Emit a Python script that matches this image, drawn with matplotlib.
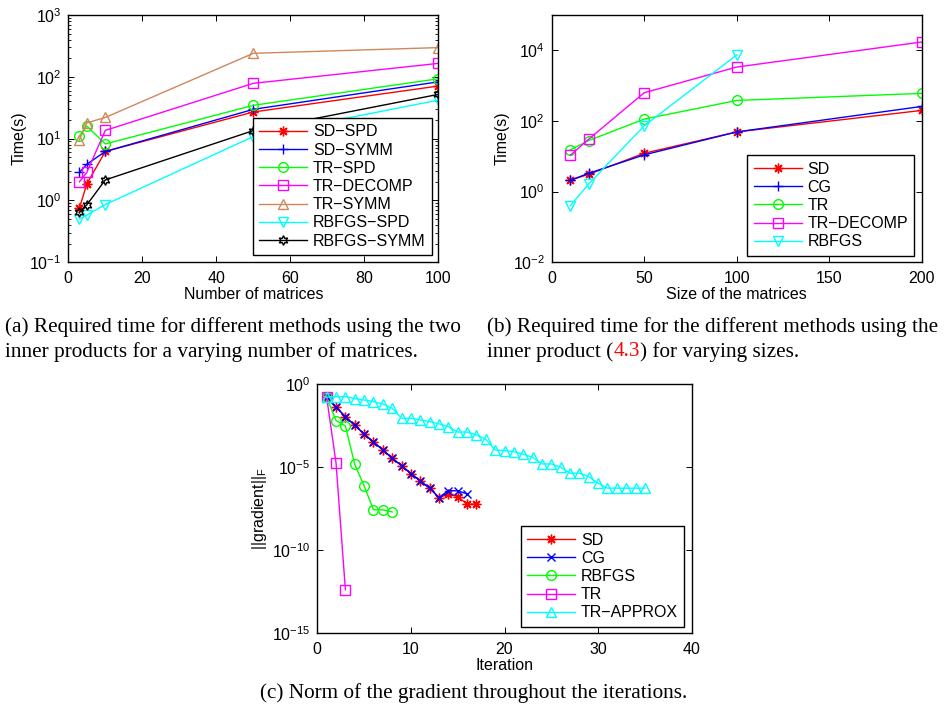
import numpy as np
import matplotlib
matplotlib.use("Agg")
import matplotlib.pyplot as plt
from matplotlib.ticker import LogLocator, NullLocator, NullFormatter

# ---------------- data ----------------
a_x = [3, 5, 10, 50, 100]
a_sd_spd = [0.75, 1.85, 6.2, 27, 71]
a_sd_symm = [2.85, 3.85, 6.2, 29.8, 83]
a_tr_spd = [11, 16, 8.2, 34.6, 93]
a_tr_decomp = [2.0, 2.85, 13.6, 78.5, 165]
a_tr_symm = [9.5, 18, 22, 240, 297]
a_rbfgs_spd = [0.5, 0.58, 0.86, 10.8, 42]
a_rbfgs_symm = [0.64, 0.85, 2.15, 13.5, 52]
a_labels = ["SD\u2212SPD", "SD\u2212SYMM", "TR\u2212SPD", "TR\u2212DECOMP",
            "TR\u2212SYMM", "RBFGS\u2212SPD", "RBFGS\u2212SYMM"]

b_x = [10, 20, 50, 100, 200]
b_sd = [2.1, 3.1, 12.2, 49, 199]
b_cg = [2.1, 3.3, 11, 49, 258]
b_tr = [15.2, 28, 113, 381, 605]
b_tr_decomp = [10.7, 30.5, 630, 3365, 17200]
b_rbfgs_x = [10, 20, 50, 100]
b_rbfgs = [0.4, 1.65, 73, 7380]
b_labels = ["SD", "CG", "TR", "TR\u2212DECOMP", "RBFGS"]

c_sd = [1.6e-1, 4.0e-2, 1.1e-2, 3.2e-3, 1.0e-3, 3.2e-4, 1.1e-4, 3.4e-5, 1.23e-5,
        4.1e-6, 1.48e-6, 5.4e-7, 1.48e-7, 2.3e-7, 1.7e-7, 5.9e-8, 5.9e-8]
c_cg = [1.6e-1, 4.0e-2, 1.1e-2, 3.2e-3, 1.0e-3, 3.2e-4, 1.1e-4, 3.4e-5, 1.23e-5,
        4.1e-6, 1.48e-6, 5.4e-7, 1.48e-7, 3.9e-7, 3.7e-7, 2.45e-7]
c_rbfgs = [1.6e-1, 6.3e-3, 3.0e-3, 1.48e-5, 7.4e-7, 2.7e-8, 2.7e-8, 2.0e-8]
c_tr = [1.6e-1, 1.8e-5, 4.2e-13]
c_tr_approx = [1.6e-1, 1.74e-1, 1.74e-1, 1.32e-1, 1.1e-1, 8.7e-2, 6.3e-2, 3.5e-2,
               8.7e-3, 8.7e-3, 6.9e-3, 5.5e-3, 4.0e-3, 2.7e-3, 1.29e-3, 1.29e-3,
               8.5e-4, 4.7e-4, 1.07e-4, 9.8e-5, 8.5e-5, 5.9e-5, 3.9e-5, 1.55e-5,
               1.55e-5, 9.8e-6, 4.3e-6, 4.3e-6, 2.7e-6, 1.07e-6, 5.4e-7, 5.4e-7,
               5.4e-7, 5.4e-7, 5.4e-7]
c_labels = ["SD", "CG", "RBFGS", "TR", "TR\u2212APPROX"]

# ---------------- style ----------------
plt.rcParams['font.family'] = ['Liberation Sans', 'DejaVu Sans']
plt.rcParams['mathtext.fontset'] = 'custom'
plt.rcParams['mathtext.rm'] = 'Liberation Sans'
plt.rcParams['mathtext.it'] = 'Liberation Sans'
FS = 11.5

ASTER = (8, 2, 0)
HEXA = (6, 1, 0)
TAN = '#D0875A'
GREEN = '#00FF00'

fig = plt.figure(figsize=(9.44, 7.10), dpi=100)
W, H = 944, 710


def add_axes(l, t, r, b):
    return fig.add_axes([l / W, 1 - b / H, (r - l) / W, (b - t) / H])


def style(ax):
    ax.tick_params(which='both', direction='in', top=True, right=True,
                   labelsize=FS, colors='black')
    ax.tick_params(which='major', length=4, width=0.7)
    ax.tick_params(axis='x', which='major', pad=6)
    ax.tick_params(axis='y', which='major', pad=5)
    ax.tick_params(which='minor', length=2, width=0.6)
    for s in ax.spines.values():
        s.set_linewidth(1.0)


def legend(ax, anchor):
    leg = ax.legend(loc='lower right', bbox_to_anchor=anchor, fontsize=FS,
                    numpoints=1, handlelength=3.0, labelspacing=0.2,
                    borderaxespad=0, fancybox=False, framealpha=1,
                    edgecolor='black', borderpad=0.4, handletextpad=0.35)
    leg.get_frame().set_linewidth(1.0)
    return leg

mk = dict(markersize=7, markerfacecolor='none', linewidth=1.0)

# ---------------- (a) ----------------
ax = add_axes(68.3, 15, 438.3, 262.3)
ax.plot(a_x, a_sd_spd, color='#FF0000', marker=ASTER, label=a_labels[0], **mk)
ax.plot(a_x, a_sd_symm, color='#0000FF', marker='+', label=a_labels[1], **mk)
ax.plot(a_x, a_tr_spd, color=GREEN, marker='o', label=a_labels[2], **mk)
ax.plot(a_x, a_tr_decomp, color='#FF00FF', marker='s', label=a_labels[3], **mk)
ax.plot(a_x, a_tr_symm, color=TAN, marker='^', label=a_labels[4], **mk)
ax.plot(a_x, a_rbfgs_spd, color='#00FFFF', marker='v', label=a_labels[5], **mk)
ax.plot(a_x, a_rbfgs_symm, color='black', marker=HEXA, label=a_labels[6], **mk)
ax.set_yscale('log')
ax.set_xlim(0, 100)
ax.set_ylim(1e-1, 1e3)
ax.set_xticks([0, 20, 40, 60, 80, 100])
ax.yaxis.set_major_locator(LogLocator(base=10, numticks=10))
ax.yaxis.set_minor_locator(LogLocator(base=10, subs=np.arange(2, 10), numticks=20))
ax.yaxis.set_minor_formatter(NullFormatter())
ax.set_xlabel('Number of matrices', fontsize=FS, labelpad=1)
ax.set_ylabel('Time(s)', fontsize=FS, labelpad=2)
style(ax)
legend(ax, (0.983, 0.0295))

# ---------------- (b) ----------------
ax = add_axes(551.7, 15, 921.7, 262.3)
ax.plot(b_x, b_sd, color='#FF0000', marker=ASTER, label=b_labels[0], **mk)
ax.plot(b_x, b_cg, color='#0000FF', marker='+', label=b_labels[1], **mk)
ax.plot(b_x, b_tr, color=GREEN, marker='o', label=b_labels[2], **mk)
ax.plot(b_x, b_tr_decomp, color='#FF00FF', marker='s', label=b_labels[3], **mk)
ax.plot(b_rbfgs_x, b_rbfgs, color='#00FFFF', marker='v', label=b_labels[4], **mk)
ax.set_yscale('log')
ax.set_xlim(0, 200)
ax.set_ylim(1e-2, 1e5)
ax.set_xticks([0, 50, 100, 150, 200])
ax.set_yticks([1e-2, 1e0, 1e2, 1e4])
ax.yaxis.set_minor_locator(NullLocator())
ax.set_xlabel('Size of the matrices', fontsize=FS, labelpad=1)
ax.set_ylabel('Time(s)', fontsize=FS, labelpad=2)
style(ax)
legend(ax, (0.98, 0.0267))

# ---------------- (c) ----------------
ax = add_axes(317.3, 384, 691.7, 633.3)
ax.plot(np.arange(1, len(c_sd) + 1), c_sd, color='#FF0000', marker=ASTER, label=c_labels[0], **mk)
ax.plot(np.arange(1, len(c_cg) + 1), c_cg, color='#0000FF', marker='x', label=c_labels[1],
        markersize=6, linewidth=1.0)
ax.plot(np.arange(1, len(c_rbfgs) + 1), c_rbfgs, color=GREEN, marker='o', label=c_labels[2], **mk)
ax.plot(np.arange(1, len(c_tr) + 1), c_tr, color='#FF00FF', marker='s', label=c_labels[3], **mk)
ax.plot(np.arange(1, len(c_tr_approx) + 1), c_tr_approx, color='#00FFFF', marker='^',
        label=c_labels[4], **mk)
ax.set_yscale('log')
ax.set_xlim(0, 40)
ax.set_ylim(1e-15, 1e0)
ax.set_xticks([0, 10, 20, 30, 40])
ax.set_yticks([1e-15, 1e-10, 1e-5, 1e0])
ax.yaxis.set_minor_locator(NullLocator())
ax.set_xlabel('Iteration', fontsize=FS, labelpad=1)
ax.set_ylabel(r'||gradient||$_\mathregular{F}$', fontsize=FS, labelpad=2)
style(ax)
legend(ax, (0.98, 0.0265))

# ---------------- captions ----------------
CF = dict(family=['Liberation Serif', 'DejaVu Serif'], fontsize=15.3, color='black')
fig.text(5 / W, 1 - 327 / H, '(a) Required time for different methods using the two',
         va='center', ha='left', **CF)
fig.text(5 / W, 1 - 352 / H, 'inner products for a varying number of matrices.',
         va='center', ha='left', **CF)
fig.text(487 / W, 1 - 327 / H, '(b) Required time for the different methods using the',
         va='center', ha='left', **CF)

fig.canvas.draw()
renderer = fig.canvas.get_renderer()
x = 487.0
for part, col in [('inner product (', 'black'), ('4.3', 'red'), (') for varying sizes.', 'black')]:
    t = fig.text(x / W, 1 - 352 / H, part, va='center', ha='left',
                 family=CF['family'], fontsize=CF['fontsize'], color=col)
    bb = t.get_window_extent(renderer=renderer)
    x += bb.width

fig.text(474 / W, 1 - 693 / H, '(c) Norm of the gradient throughout the iterations.',
         va='center', ha='center', **CF)

fig.savefig('out.png', dpi=100)
